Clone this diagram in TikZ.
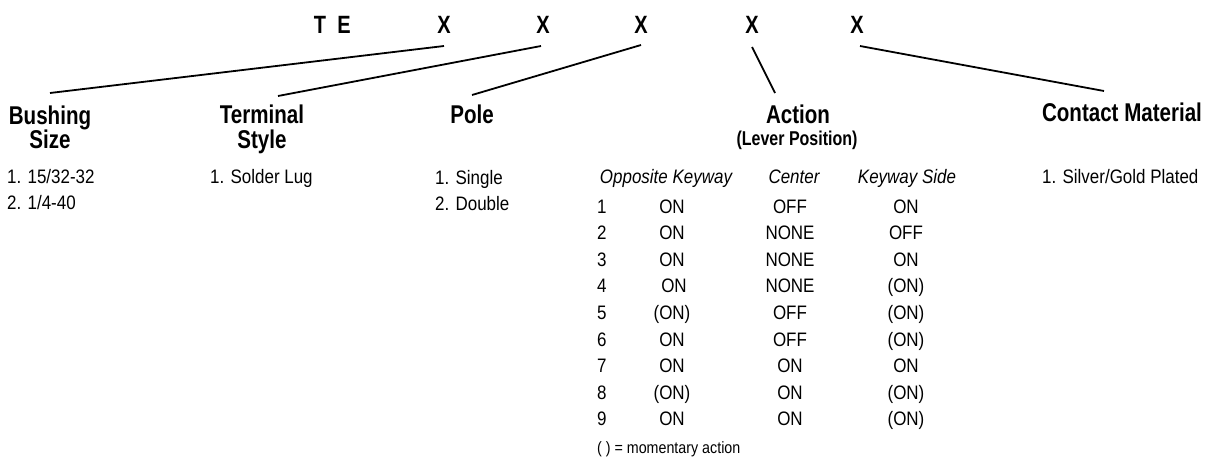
\documentclass[tikz,border=0pt]{standalone}
\usepackage{fontspec}
\setmainfont{Liberation Sans}[FakeStretch=0.87]
\newfontfamily\headfont{Liberation Sans}[FakeStretch=0.8]
\usetikzlibrary{calc}

\tikzset{
	code/.style={font=\headfont\bfseries\fontsize{25}{25}\selectfont, inner sep=0pt, anchor=base},
	head/.style={font=\headfont\bfseries\fontsize{25.7}{26}\selectfont, inner sep=0pt, anchor=base},
	subhead/.style={font=\headfont\bfseries\fontsize{20}{20}\selectfont, inner sep=0pt, anchor=base},
	item/.style={font=\fontsize{19.5}{20}\selectfont, inner sep=0pt, anchor=base west},
	cell/.style={font=\fontsize{19.5}{20}\selectfont, inner sep=0pt, anchor=base},
	colhead/.style={font=\itshape\fontsize{19.5}{20}\selectfont, inner sep=0pt, anchor=base},
	lead/.style={line width=1.8pt},
}

\begin{document}
\begin{tikzpicture}[x=1pt, y=-1pt]
			%%%%% START %%%%%
			\useasboundingbox (0, 0) rectangle (1205, 466);
			
			\node[code] (t) at (320, 33) {T};
			\node[code] (e) at (344, 33) {E};
			\node[code] (x1) at (444, 33) {X};
			\node[code] (x2) at (543, 33) {X};
			\node[code] (x3) at (641, 33) {X};
			\node[code] (x4) at (752, 33) {X};
			\node[code] (x5) at (857, 33) {X};
			
			\node[head] (bush) at (50, 124) {Bushing};
			\node[head] (bushb) at (50, 148) {Size};
			\node[head] (term) at (262, 123) {Terminal};
			\node[head] (termb) at (262, 148) {Style};
			\node[head] (pole) at (472, 123) {Pole};
			\node[head] (act) at (798, 123) {Action};
			\node[subhead] (actb) at (797, 145) {(Lever Position)};
			\node[head] (cont) at (1122, 121) {Contact Material};
			
			\draw[lead] ([yshift=-13pt]x1.base) -- ([yshift=31pt]bush.base);
			\draw[lead] ([xshift=-2pt, yshift=-13pt]x2.base) -- ([xshift=16pt, yshift=27pt]term.base);
			\draw[lead] ([yshift=-12pt]x3.base) -- ([yshift=28pt]pole.base);
			\draw[lead] ([yshift=-14pt]x4.base) -- ([xshift=-23pt, yshift=30pt]act.base);
			\draw[lead] ([xshift=3pt, yshift=-13pt]x5.base) -- ([xshift=-18pt, yshift=30pt]cont.base);
			
			\node[item] (bush1) at (7, 183) {1. 15/32-32};
			\node[item] (bush2) at (7, 209) {2. 1/4-40};
			\node[item] (term1) at (210, 183) {1. Solder Lug};
			\node[item] (pole1) at (435, 184) {1. Single};
			\node[item] (pole2) at (435, 210) {2. Double};
			\node[item] (cont1) at (1042, 183) {1. Silver/Gold Plated};
			
			\node[colhead] (opp) at (666, 183) {Opposite Keyway};
			\node[colhead] (cen) at (794, 183) {Center};
			\node[colhead] (key) at (907, 183) {Keyway Side};
			
			\node[item] (n1) at (597, 213) {1}; \node[cell] (a1) at (672, 213) {ON}; \node[cell] (b1) at (790, 213) {OFF}; \node[cell] (c1) at (906, 213) {ON};
			\node[item] (n2) at (597, 239.6) {2}; \node[cell] (a2) at (672, 239.6) {ON}; \node[cell] (b2) at (790, 239.6) {NONE}; \node[cell] (c2) at (906, 239.6) {OFF};
			\node[item] (n3) at (597, 266.2) {3}; \node[cell] (a3) at (672, 266.2) {ON}; \node[cell] (b3) at (790, 266.2) {NONE}; \node[cell] (c3) at (906, 266.2) {ON};
			\node[item] (n4) at (597, 292.8) {4}; \node[cell] (a4) at (674, 292.8) {ON}; \node[cell] (b4) at (790, 292.8) {NONE}; \node[cell] (c4) at (906, 292.8) {(ON)};
			\node[item] (n5) at (597, 319.4) {5}; \node[cell] (a5) at (672, 319.4) {(ON)}; \node[cell] (b5) at (790, 319.4) {OFF}; \node[cell] (c5) at (906, 319.4) {(ON)};
			\node[item] (n6) at (597, 346) {6}; \node[cell] (a6) at (672, 346) {ON}; \node[cell] (b6) at (790, 346) {OFF}; \node[cell] (c6) at (906, 346) {(ON)};
			\node[item] (n7) at (597, 372.6) {7}; \node[cell] (a7) at (672, 372.6) {ON}; \node[cell] (b7) at (790, 372.6) {ON}; \node[cell] (c7) at (906, 372.6) {ON};
			\node[item] (n8) at (597, 399.2) {8}; \node[cell] (a8) at (672, 399.2) {(ON)}; \node[cell] (b8) at (790, 399.2) {ON}; \node[cell] (c8) at (906, 399.2) {(ON)};
			\node[item] (n9) at (597, 425.8) {9}; \node[cell] (a9) at (672, 425.8) {ON}; \node[cell] (b9) at (790, 425.8) {ON}; \node[cell] (c9) at (906, 425.8) {(ON)};
			
			\node[item, font=\fontsize{16.4}{17}\selectfont] (note) at (597, 453) {( ) = momentary action};
			
			%%%%% END %%%%%
\end{tikzpicture}
\end{document}
